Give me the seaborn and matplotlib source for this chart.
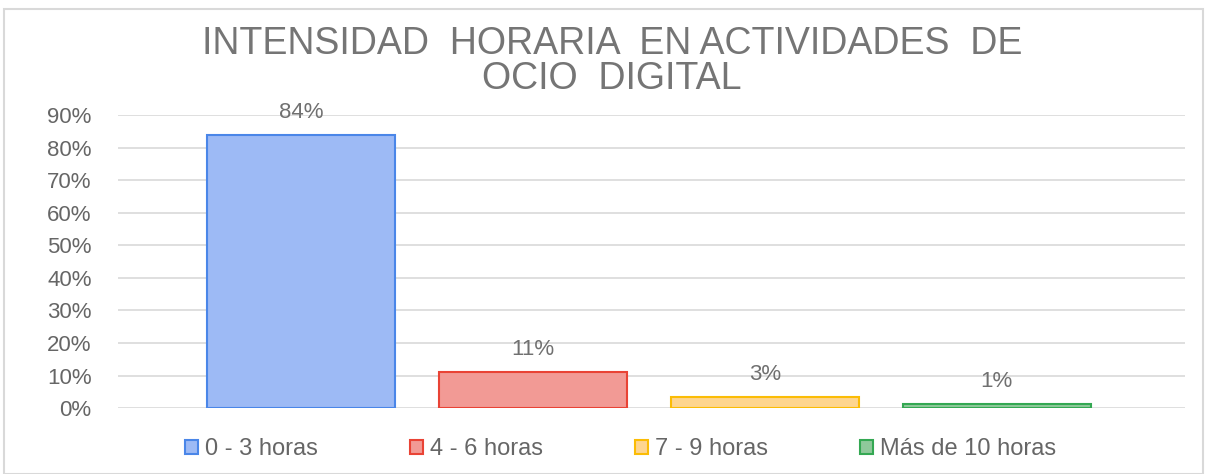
import matplotlib
matplotlib.use("Agg")
import matplotlib.pyplot as plt
import seaborn as sns
from matplotlib.patches import Rectangle
from matplotlib.ticker import PercentFormatter

categorias = ["0 - 3 horas", "4 - 6 horas", "7 - 9 horas", "Más de 10 horas"]
porcentajes = [84.0, 11.2, 3.4, 1.2]
etiquetas = ["84%", "11%", "3%", "1%"]
rellenos = ["#9DBAF5", "#F29A95", "#FED58F", "#8FC99B"]
bordes = ["#4A86E8", "#E94335", "#FBBC05", "#34A853"]

sns.set_style("white")
plt.rcParams["font.family"] = ["Liberation Sans", "DejaVu Sans"]

fig = plt.figure(figsize=(12.05, 4.74), dpi=100)
ax = fig.add_axes([0.098, 0.139, 0.885, 0.618])

sns.barplot(x=categorias, y=porcentajes, hue=categorias, palette=rellenos,
            saturation=1, dodge=False, width=0.81, legend=False, ax=ax, zorder=3)

for barra, borde in zip(ax.patches, bordes):
    barra.set_edgecolor(borde)
    barra.set_linewidth(1.5)

for i, (v, t) in enumerate(zip(porcentajes, etiquetas)):
    ax.text(i, v + 3.6, t, ha="center", va="bottom", fontsize=16, color="#707070")

ax.set_xlim(-0.79, 3.81)
ax.set_ylim(0, 90)
ax.set_yticks(range(0, 91, 10))
ax.yaxis.set_major_formatter(PercentFormatter(decimals=0))
ax.tick_params(axis="y", labelsize=16, labelcolor="#666666", length=0, pad=19)
ax.set_xticks([])
ax.set_xlabel("")
ax.set_ylabel("")
ax.grid(axis="y", color="#D9D9D9", linewidth=1.2, zorder=0)
for lado in ["top", "right", "left", "bottom"]:
    ax.spines[lado].set_visible(False)

fig.text(0.508, 0.945, "INTENSIDAD  HORARIA  EN ACTIVIDADES  DE\nOCIO  DIGITAL",
         ha="center", va="top", fontsize=27, color="#757575", linespacing=0.95)

manejadores = [Rectangle((0, 0), 1, 1, facecolor=f, edgecolor=b, linewidth=1.5)
               for f, b in zip(rellenos, bordes)]
fig.legend(manejadores, categorias, loc="center", bbox_to_anchor=(0.515, 0.052),
           ncol=4, frameon=False, fontsize=17, labelcolor="#666666",
           handlelength=0.55, handleheight=0.55, handletextpad=0.3, columnspacing=3.9)

fig.patches.append(Rectangle((0.003, 0.0), 0.995, 0.982, transform=fig.transFigure,
                             fill=False, edgecolor="#D9D9D9", linewidth=1.5))

fig.savefig("out.png", dpi=100)
